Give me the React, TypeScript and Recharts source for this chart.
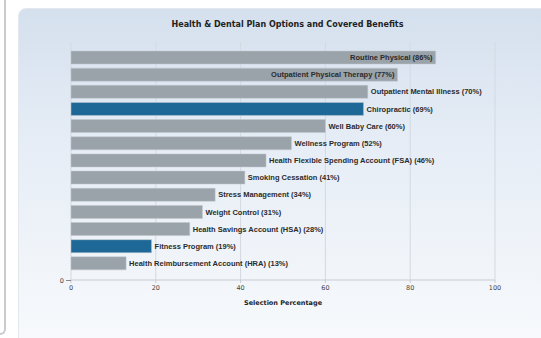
import React from 'react';
import { BarChart, Bar, XAxis, YAxis, CartesianGrid, Cell, LabelList } from 'recharts';

// Valeurs (pourcentage de sélection)
const benefits = [
  'Routine Physical',
  'Outpatient Physical Therapy',
  'Outpatient Mental Illness',
  'Chiropractic',
  'Well Baby Care',
  'Wellness Program',
  'Health Flexible Spending Account (FSA)',
  'Smoking Cessation',
  'Stress Management',
  'Weight Control',
  'Health Savings Account (HSA)',
  'Fitness Program',
  'Health Reimbursement Account (HRA)',
];
const percents = [86, 77, 70, 69, 60, 52, 46, 41, 34, 31, 28, 19, 13];
const highlighted = ['Chiropractic', 'Fitness Program'];
const xTicks = [0, 20, 40, 60, 80, 100];

const data = benefits.map((name, i) => ({
  name,
  value: percents[i],
  label: `${name} (${percents[i]}%)`,
}));

function BarLabel(props: any) {
  const { x, y, width, height, value, index } = props;
  const inside = percents[index] >= 75;
  return (
    <text
      x={inside ? x + width - 3 : x + width + 3}
      y={y + height / 2}
      dy="0.35em"
      textAnchor={inside ? 'end' : 'start'}
      fontFamily="'Liberation Sans', Arial, sans-serif"
      fontWeight="bold"
      fontSize={7.5}
      fill="#2b2b2b"
    >
      {value}
    </text>
  );
}

export default function App() {
  return (
    <div style={{ position: 'fixed', left: 0, top: 0, width: 541, height: 338, background: '#fff', overflow: 'hidden' }}>
      {/* bord du panneau voisin */}
      <div
        style={{
          position: 'absolute', left: -20, top: -10, width: 24, height: 343,
          borderRight: '2px solid #c9cbcf', borderBottom: '2px solid #c9cbcf',
          borderBottomRightRadius: 6,
        }}
      />
      {/* panneau principal */}
      <div
        style={{
          position: 'absolute', left: 18, top: 8, width: 540, height: 340,
          borderTopLeftRadius: 8,
          border: '1px solid #e3e8ef',
          background: 'linear-gradient(to bottom, #d5e0ee 0%, #e6edf6 40%, #f8fafc 100%)',
        }}
      />
      <div
        style={{
          position: 'absolute', left: 0, top: 20, width: 541, textAlign: 'center',
          paddingLeft: 34, boxSizing: 'border-box',
          fontFamily: "'DejaVu Sans', Verdana, sans-serif", fontWeight: 'bold', fontSize: 8, color: '#222',
        }}
      >
        Health &amp; Dental Plan Options and Covered Benefits
      </div>
      <div style={{ position: 'absolute', left: 0, top: 0 }}>
        <BarChart
          width={541}
          height={338}
          data={data}
          layout="vertical"
          margin={{ top: 42, right: 46, bottom: 28, left: 71 }}
        >
          <CartesianGrid vertical horizontal={false} stroke="#d3d9e1" />
          <XAxis
            type="number"
            domain={[0, 100]}
            ticks={xTicks}
            height={30}
            stroke="#c8ccd2"
            tickSize={3}
            tick={{ fill: '#444', fontSize: 6.5, fontFamily: "'DejaVu Sans', Verdana, sans-serif" }}
            label={{
              value: 'Selection Percentage',
              position: 'insideBottom',
              offset: 5,
              fill: '#222',
              fontSize: 6.5,
              fontWeight: 'bold',
              fontFamily: "'DejaVu Sans', Verdana, sans-serif",
            }}
          />
          <YAxis type="category" dataKey="name" hide padding={{ top: 7, bottom: 8 }} />
          <Bar dataKey="value" barSize={13} isAnimationActive={false} stroke="#c3c8ce" strokeWidth={0.5}>
            {data.map((d) => (
              <Cell key={d.name} fill={highlighted.includes(d.name) ? '#1e6898' : '#9aa2aa'} />
            ))}
            <LabelList dataKey="label" content={BarLabel} />
          </Bar>
        </BarChart>
      </div>
      {/* graduation "0" de l'axe vertical */}
      <svg style={{ position: 'absolute', left: 55, top: 274 }} width={17} height={12}>
        <line x1={11} y1={6.5} x2={16} y2={6.5} stroke="#888" />
        <text x={9} y={6.5} dy="0.35em" textAnchor="end" fontSize={6.5} fill="#444"
          fontFamily="'DejaVu Sans', Verdana, sans-serif">0</text>
      </svg>
    </div>
  );
}
